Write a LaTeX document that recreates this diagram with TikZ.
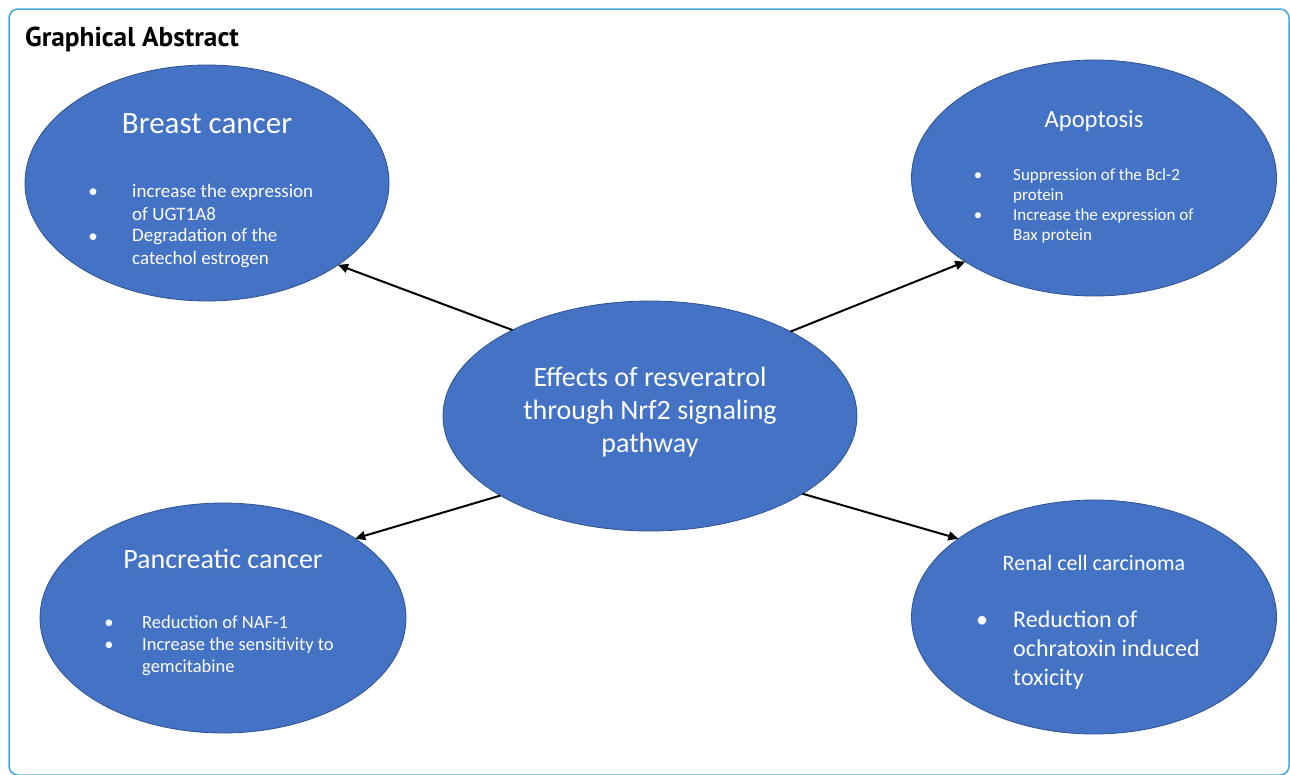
\documentclass[tikz,border=0pt]{standalone}
\usepackage{fontspec}
\setmainfont{Carlito}
\newfontfamily\headfont{PT Sans}
\usetikzlibrary{shapes.geometric,arrows.meta}
\definecolor{ellfill}{HTML}{4472C4}
\definecolor{elldraw}{HTML}{2F528F}
\definecolor{framecol}{HTML}{3FA9D6}
\begin{document}
\begin{tikzpicture}[x=1pt,y=-1pt,
  bubble/.style={ellipse, fill=ellfill, draw=elldraw, line width=0.8pt, inner sep=0pt, outer sep=0pt},
  head/.style={text=white, anchor=base, inner sep=0pt},
  item/.style={text=white, anchor=base west, align=left, inner sep=0pt},
  dot/.style={text=white, anchor=base, inner sep=0pt},
  link/.style={line width=2pt, -{Triangle[length=10pt,width=9pt]}}]
\useasboundingbox (0,0) rectangle (1290,774);
\draw[framecol, line width=1.5pt, rounded corners=9pt] (9,9) rectangle (1289,775);
\node[anchor=base west, inner sep=0pt, font=\headfont\bfseries\fontsize{27.3}{32}\selectfont] (title) at (25,46) {Graphical Abstract};
% ellipses
\node[bubble, minimum width=364pt, minimum height=236pt] (breast) at (207,183) {};
\node[bubble, minimum width=365pt, minimum height=236pt] (apop) at (1094,178) {};
\node[bubble, minimum width=414pt, minimum height=230pt] (center) at (650,416) {};
\node[bubble, minimum width=366pt, minimum height=230pt] (panc) at (223,618) {};
\node[bubble, minimum width=365pt, minimum height=234pt] (renal) at (1094,617) {};
% breast
\node[head, font=\fontsize{31}{37}\selectfont] (breasthead) at (207,133) {Breast cancer};
\begin{scope}[font=\fontsize{19}{22.3}\selectfont]
\node[dot] (bd1) at (93,197) {•};
\node[item] (bt1) at (132,220) {increase the expression\\of UGT1A8};
\node[dot] (bd2) at (93,242) {•};
\node[item] (bt2) at (132,264) {Degradation of the\\catechol estrogen};
\end{scope}
% apoptosis
\node[head, font=\fontsize{24.6}{30}\selectfont] (apophead) at (1094,127) {Apoptosis};
\begin{scope}[font=\fontsize{17}{20}\selectfont]
\node[dot] (ad1) at (978,180) {•};
\node[item] (at1) at (1013,200) {Suppression of the Bcl-2\\protein};
\node[dot] (ad2) at (978,220) {•};
\node[item] (at2) at (1013,240) {Increase the expression of\\Bax protein};
\end{scope}
% center
\node[text=white, anchor=base, align=center, inner sep=0pt, font=\fontsize{28}{33}\selectfont] (centertext) at (650,452) {Effects of resveratrol\\through Nrf2 signaling\\pathway};
% pancreatic
\node[head, font=\fontsize{28}{34}\selectfont] (panchead) at (223,568) {Pancreatic cancer};
\begin{scope}[font=\fontsize{18.5}{22}\selectfont]
\node[dot] (pd1) at (109,628) {•};
\node[item] (pt1) at (142,628) {Reduction of NAF-1};
\node[dot] (pd2) at (109,650) {•};
\node[item] (pt2) at (142,672) {Increase the sensitivity to\\gemcitabine};
\end{scope}
% renal
\node[head, font=\fontsize{22}{27}\selectfont] (renalhead) at (1094,570) {Renal cell carcinoma};
\begin{scope}[font=\fontsize{24}{29}\selectfont]
\node[dot] (rd1) at (982,627) {•};
\node[item] (rt1) at (1013,685) {Reduction of\\ochratoxin induced\\toxicity};
\end{scope}
% arrows
\draw[link] (center.148) -- (breast.-32.7);
\draw[link] (center.31.5) -- (apop.213.3);
\draw[link] (center.208) -- (panc.31.2);
\draw[link] (center.-27.6) -- (renal.150);
\end{tikzpicture}
\end{document}
